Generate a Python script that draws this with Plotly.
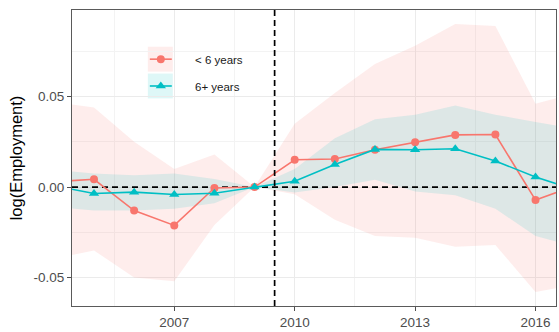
import plotly.graph_objects as go

# Event-study estimates by firm age group, relative to 2009
years = list(range(2004, 2018))

short_est = [0.0029, 0.0043, -0.0130, -0.0212, -0.0005, 0.0, 0.0151, 0.0155,
             0.0206, 0.0248, 0.0288, 0.0290, -0.0072, 0.0008]
short_lo = [-0.0395, -0.035, -0.050, -0.052, -0.021, 0.0, -0.004, -0.018,
            -0.027, -0.028, -0.033, -0.032, -0.058, -0.054]
short_hi = [0.047, 0.044, 0.025, 0.010, 0.018, 0.0, 0.035, 0.052,
            0.068, 0.078, 0.090, 0.089, 0.046, 0.052]

long_est = [0.0007, -0.0036, -0.0028, -0.0041, -0.0034, 0.0, 0.0032, 0.0125,
            0.0208, 0.0206, 0.0212, 0.0144, 0.0056, -0.0016]
long_lo = [-0.011, -0.013, -0.013, -0.012, -0.009, 0.0, -0.003, 0.0,
           0.004, -0.0025, -0.0045, -0.012, -0.027, -0.033]
long_hi = [0.0094, 0.0075, 0.0065, 0.0075, 0.0045, 0.0, 0.010, 0.027,
           0.0375, 0.040, 0.045, 0.040, 0.036, 0.032]

group_names = ["< 6 years", "6+ years"]
x_ticks = [2007, 2010, 2013, 2016]
y_ticks = [-0.05, 0.0, 0.05]
y_ticklabels = ["-0.05", "0.00", "0.05"]
treatment_year = 2009.5

RED = "#F8766D"
TEAL = "#00BFC4"
RED_FILL = "rgba(248,118,109,0.13)"
TEAL_FILL = "rgba(0,191,196,0.13)"

fig = go.Figure()

series = [
    (short_est, short_lo, short_hi, RED, RED_FILL, "circle", 8),
    (long_est, long_lo, long_hi, TEAL, TEAL_FILL, "triangle-up", 9),
]

# confidence bands
for est, lo, hi, col, fill, sym, size in series:
    fig.add_trace(go.Scatter(
        x=years + years[::-1], y=hi + lo[::-1],
        fill="toself", fillcolor=fill, line=dict(width=0),
        mode="lines", hoverinfo="skip", showlegend=False))

# reference lines (drawn as traces so they sit above the bands)
fig.add_trace(go.Scatter(
    x=[2004.452, 2016.51], y=[0, 0], mode="lines",
    line=dict(color="black", width=1.7, dash="6px,4px"),
    hoverinfo="skip", showlegend=False))
fig.add_shape(type="line", xref="x", x0=treatment_year, x1=treatment_year,
              yref="paper", y0=0, y1=1,
              line=dict(color="black", width=1.7, dash="6px,4px"), layer="above")

# point estimates
for (est, lo, hi, col, fill, sym, size), name in zip(series, group_names):
    fig.add_trace(go.Scatter(
        x=years, y=est, mode="lines+markers", name=name,
        line=dict(color=col, width=1.6),
        marker=dict(color=col, symbol=sym, size=size, line=dict(width=0)),
        showlegend=False))

# legend drawn inside the panel on a pixel-scaled overlay axis
key_rows = [(59.5, RED, RED_FILL, "circle", 8, group_names[0]),
            (86.5, TEAL, TEAL_FILL, "triangle-up", 9, group_names[1])]
for yc, col, fill, sym, size, label in key_rows:
    fig.add_shape(type="rect", xref="x2", yref="y2", x0=148, x1=173,
                  y0=yc - 12.5, y1=yc + 12.5, fillcolor=fill,
                  line=dict(width=0), layer="below")
    fig.add_trace(go.Scatter(
        x=[150, 161, 172], y=[yc, yc, yc], xaxis="x2", yaxis="y2",
        mode="lines", line=dict(color=col, width=1.6),
        hoverinfo="skip", showlegend=False))
    fig.add_trace(go.Scatter(
        x=[161], y=[yc], xaxis="x2", yaxis="y2", mode="markers",
        marker=dict(color=col, symbol=sym, size=size, line=dict(width=0)),
        hoverinfo="skip", showlegend=False))
    fig.add_annotation(x=193, y=yc + 1, xref="x2", yref="y2", text=label,
                       showarrow=False, xanchor="left", yanchor="middle",
                       font=dict(size=11.5, color="#1a1a1a"))

grid = "#ebebeb"
fig.update_layout(
    width=559, height=332,
    margin=dict(l=72, r=2, t=10, b=24),
    paper_bgcolor="white", plot_bgcolor="white",
    font=dict(family="Liberation Sans, Arial, sans-serif"),
    xaxis=dict(
        range=[2004.452, 2016.51],
        tickmode="array", tickvals=x_ticks, ticktext=[str(v) for v in x_ticks],
        ticks="outside", ticklen=4, tickcolor="#4d4d4d", tickwidth=1,
        tickfont=dict(size=13.5, color="#4d4d4d"),
        showgrid=True, gridcolor=grid, gridwidth=1,
        minor=dict(tickmode="array", tickvals=[2005.5, 2008.5, 2011.5, 2014.5],
                   showgrid=True, gridcolor="#f3f3f3", gridwidth=0.6, ticks=""),
        zeroline=False, showline=True, linecolor="#5a5a5a", linewidth=1, mirror=True,
    ),
    yaxis=dict(
        range=[-0.0657, 0.0978],
        tickmode="array", tickvals=y_ticks, ticktext=y_ticklabels,
        ticks="outside", ticklen=4, tickcolor="#4d4d4d", tickwidth=1,
        tickfont=dict(size=13.5, color="#4d4d4d"),
        showgrid=True, gridcolor=grid, gridwidth=1,
        minor=dict(tickmode="array", tickvals=[-0.025, 0.025, 0.075],
                   showgrid=True, gridcolor="#f3f3f3", gridwidth=0.6, ticks=""),
        zeroline=False, showline=True, linecolor="#5a5a5a", linewidth=1, mirror=True,
        title=dict(text="log(Employment)", font=dict(size=16.5, color="black"),
                   standoff=6),
    ),
    xaxis2=dict(domain=[0, 1], range=[72, 557], overlaying="x", anchor="y2",
                visible=False, fixedrange=True),
    yaxis2=dict(range=[308, 10], overlaying="y", anchor="x2",
                visible=False, fixedrange=True),
    showlegend=False,
)

fig.write_html("out.html")
